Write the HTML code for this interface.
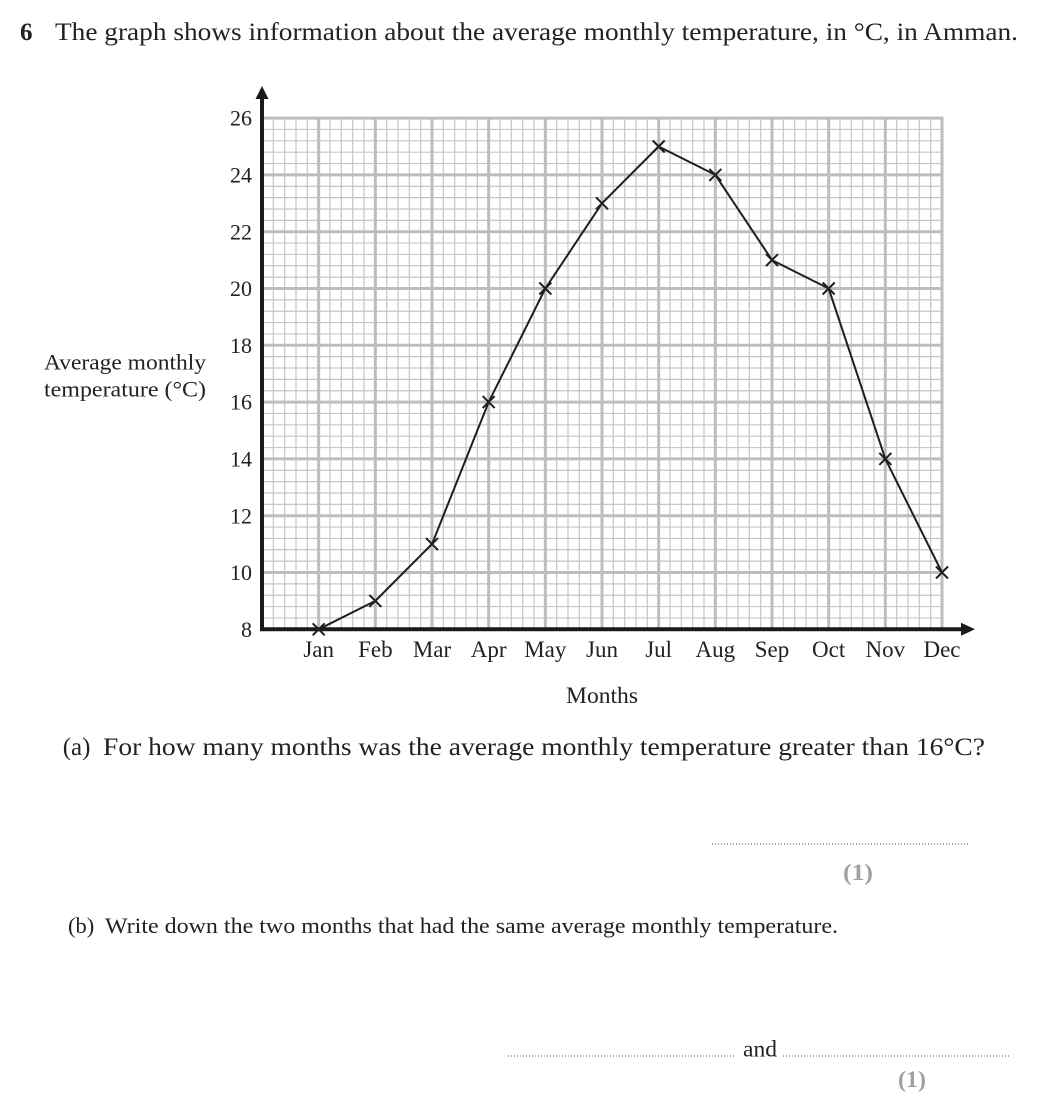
<!DOCTYPE html>
<html><head><meta charset="utf-8"><style>
html,body{margin:0;padding:0;background:#fff;}
svg{display:block;}
text{font-family:"Liberation Serif","Times New Roman",serif;fill:#222;}
</style></head><body>
<svg width="1040" height="1102" viewBox="0 0 1040 1102" xmlns="http://www.w3.org/2000/svg">
<rect width="1040" height="1102" fill="#fff"/>
<!-- Title -->
<text x="20" y="40" font-size="25" font-weight="bold">6</text>
<text x="55" y="40" font-size="25" textLength="963" lengthAdjust="spacingAndGlyphs">The graph shows information about the average monthly temperature, in °C, in Amman.</text>

<!-- minor grid -->
<path stroke="#c6c6c6" stroke-width="1.2" fill="none" d="
M273.33 118.1V629.3 M284.67 118.1V629.3 M296 118.1V629.3 M307.33 118.1V629.3
M330 118.1V629.3 M341.33 118.1V629.3 M352.67 118.1V629.3 M364 118.1V629.3
M386.67 118.1V629.3 M398 118.1V629.3 M409.33 118.1V629.3 M420.67 118.1V629.3
M443.33 118.1V629.3 M454.67 118.1V629.3 M466 118.1V629.3 M477.33 118.1V629.3
M500 118.1V629.3 M511.33 118.1V629.3 M522.67 118.1V629.3 M534 118.1V629.3
M556.67 118.1V629.3 M568 118.1V629.3 M579.33 118.1V629.3 M590.67 118.1V629.3
M613.33 118.1V629.3 M624.67 118.1V629.3 M636 118.1V629.3 M647.33 118.1V629.3
M670 118.1V629.3 M681.33 118.1V629.3 M692.67 118.1V629.3 M704 118.1V629.3
M726.67 118.1V629.3 M738 118.1V629.3 M749.33 118.1V629.3 M760.67 118.1V629.3
M783.33 118.1V629.3 M794.67 118.1V629.3 M806 118.1V629.3 M817.33 118.1V629.3
M840 118.1V629.3 M851.33 118.1V629.3 M862.67 118.1V629.3 M874 118.1V629.3
M896.67 118.1V629.3 M908 118.1V629.3 M919.33 118.1V629.3 M930.67 118.1V629.3
M262 129.46H942 M262 140.82H942 M262 152.18H942 M262 163.54H942
M262 186.26H942 M262 197.62H942 M262 208.98H942 M262 220.34H942
M262 243.06H942 M262 254.42H942 M262 265.78H942 M262 277.14H942
M262 299.86H942 M262 311.22H942 M262 322.58H942 M262 333.94H942
M262 356.66H942 M262 368.02H942 M262 379.38H942 M262 390.74H942
M262 413.46H942 M262 424.82H942 M262 436.18H942 M262 447.54H942
M262 470.26H942 M262 481.62H942 M262 492.98H942 M262 504.34H942
M262 527.06H942 M262 538.42H942 M262 549.78H942 M262 561.14H942
M262 583.86H942 M262 595.22H942 M262 606.58H942 M262 617.94H942
"/>
<!-- major grid -->
<path stroke="#bdbdbd" stroke-width="3" fill="none" d="
M318.67 118.1V629.3 M375.33 118.1V629.3 M432 118.1V629.3 M488.67 118.1V629.3
M545.33 118.1V629.3 M602 118.1V629.3 M658.67 118.1V629.3 M715.33 118.1V629.3
M772 118.1V629.3 M828.67 118.1V629.3 M885.33 118.1V629.3 M942 116.6V629.3
M262 118.1H943.5 M262 174.9H942 M262 231.7H942 M262 288.5H942 M262 345.3H942
M262 402.1H942 M262 458.9H942 M262 515.7H942 M262 572.5H942
"/>

<!-- axes -->
<path stroke="#1a1a1a" stroke-width="4" fill="none" d="M262 631.3V97 M260 629.3H962"/>
<path fill="#1a1a1a" d="M262 86 L268.5 99 L255.5 99 Z"/>
<path fill="#1a1a1a" d="M975 629.3 L961 622.8 L961 635.8 Z"/>

<!-- data line -->
<polyline fill="none" stroke="#1f1f1f" stroke-width="2" stroke-linejoin="round" points="318.67,629.3 375.33,600.9 432,544.1 488.67,402.1 545.33,288.5 602,203.3 658.67,146.5 715.33,174.9 772,260.1 828.67,288.5 885.33,458.9 942,572.5"/>
<!-- crosses -->
<path stroke="#1f1f1f" stroke-width="2" fill="none" d="
M312.67 623.3l12 12 M312.67 635.3l12 -12
M369.33 594.9l12 12 M369.33 606.9l12 -12
M426 538.1l12 12 M426 550.1l12 -12
M482.67 396.1l12 12 M482.67 408.1l12 -12
M539.33 282.5l12 12 M539.33 294.5l12 -12
M596 197.3l12 12 M596 209.3l12 -12
M652.67 140.5l12 12 M652.67 152.5l12 -12
M709.33 168.9l12 12 M709.33 180.9l12 -12
M766 254.1l12 12 M766 266.1l12 -12
M822.67 282.5l12 12 M822.67 294.5l12 -12
M879.33 452.9l12 12 M879.33 464.9l12 -12
M936 566.5l12 12 M936 578.5l12 -12
"/>

<!-- y tick labels -->
<g font-size="22" text-anchor="end">
<text x="252" y="125.7">26</text>
<text x="252" y="182.5">24</text>
<text x="252" y="239.3">22</text>
<text x="252" y="296.1">20</text>
<text x="252" y="352.9">18</text>
<text x="252" y="409.7">16</text>
<text x="252" y="466.5">14</text>
<text x="252" y="523.3">12</text>
<text x="252" y="580.1">10</text>
<text x="252" y="636.9">8</text>
</g>
<!-- y label -->
<text x="44" y="369.3" font-size="22" textLength="162" lengthAdjust="spacingAndGlyphs">Average monthly</text>
<text x="44" y="396.7" font-size="22" textLength="162" lengthAdjust="spacingAndGlyphs">temperature (°C)</text>

<!-- month labels -->
<g font-size="23" text-anchor="middle">
<text x="318.67" y="657">Jan</text>
<text x="375.33" y="657">Feb</text>
<text x="432" y="657">Mar</text>
<text x="488.67" y="657">Apr</text>
<text x="545.33" y="657">May</text>
<text x="602" y="657">Jun</text>
<text x="658.67" y="657">Jul</text>
<text x="715.33" y="657">Aug</text>
<text x="772" y="657">Sep</text>
<text x="828.67" y="657">Oct</text>
<text x="885.33" y="657">Nov</text>
<text x="942" y="657">Dec</text>
</g>
<text x="566" y="703" font-size="23" textLength="72" lengthAdjust="spacingAndGlyphs">Months</text>

<!-- (a) -->
<text x="62.7" y="755" font-size="25">(a)</text>
<text x="103" y="755" font-size="25" textLength="882" lengthAdjust="spacingAndGlyphs">For how many months was the average monthly temperature greater than 16°C?</text>
<line x1="712" y1="844" x2="968" y2="844" stroke="#555" stroke-width="1" stroke-dasharray="1,2"/>
<text x="843" y="880" font-size="23" font-weight="bold" fill="#a0a0a0" style="fill:#a0a0a0" textLength="30" lengthAdjust="spacingAndGlyphs">(1)</text>

<!-- (b) -->
<text x="68" y="933" font-size="22.5">(b)</text>
<text x="105" y="933" font-size="22.5" textLength="733" lengthAdjust="spacingAndGlyphs">Write down the two months that had the same average monthly temperature.</text>
<line x1="508" y1="1056" x2="735" y2="1056" stroke="#555" stroke-width="1" stroke-dasharray="1,2"/>
<text x="743" y="1056.7" font-size="23" textLength="34" lengthAdjust="spacingAndGlyphs">and</text>
<line x1="783" y1="1056" x2="1010" y2="1056" stroke="#555" stroke-width="1" stroke-dasharray="1,2"/>
<text x="898" y="1087" font-size="23" font-weight="bold" style="fill:#a0a0a0" textLength="28" lengthAdjust="spacingAndGlyphs">(1)</text>
</svg>
</body></html>
